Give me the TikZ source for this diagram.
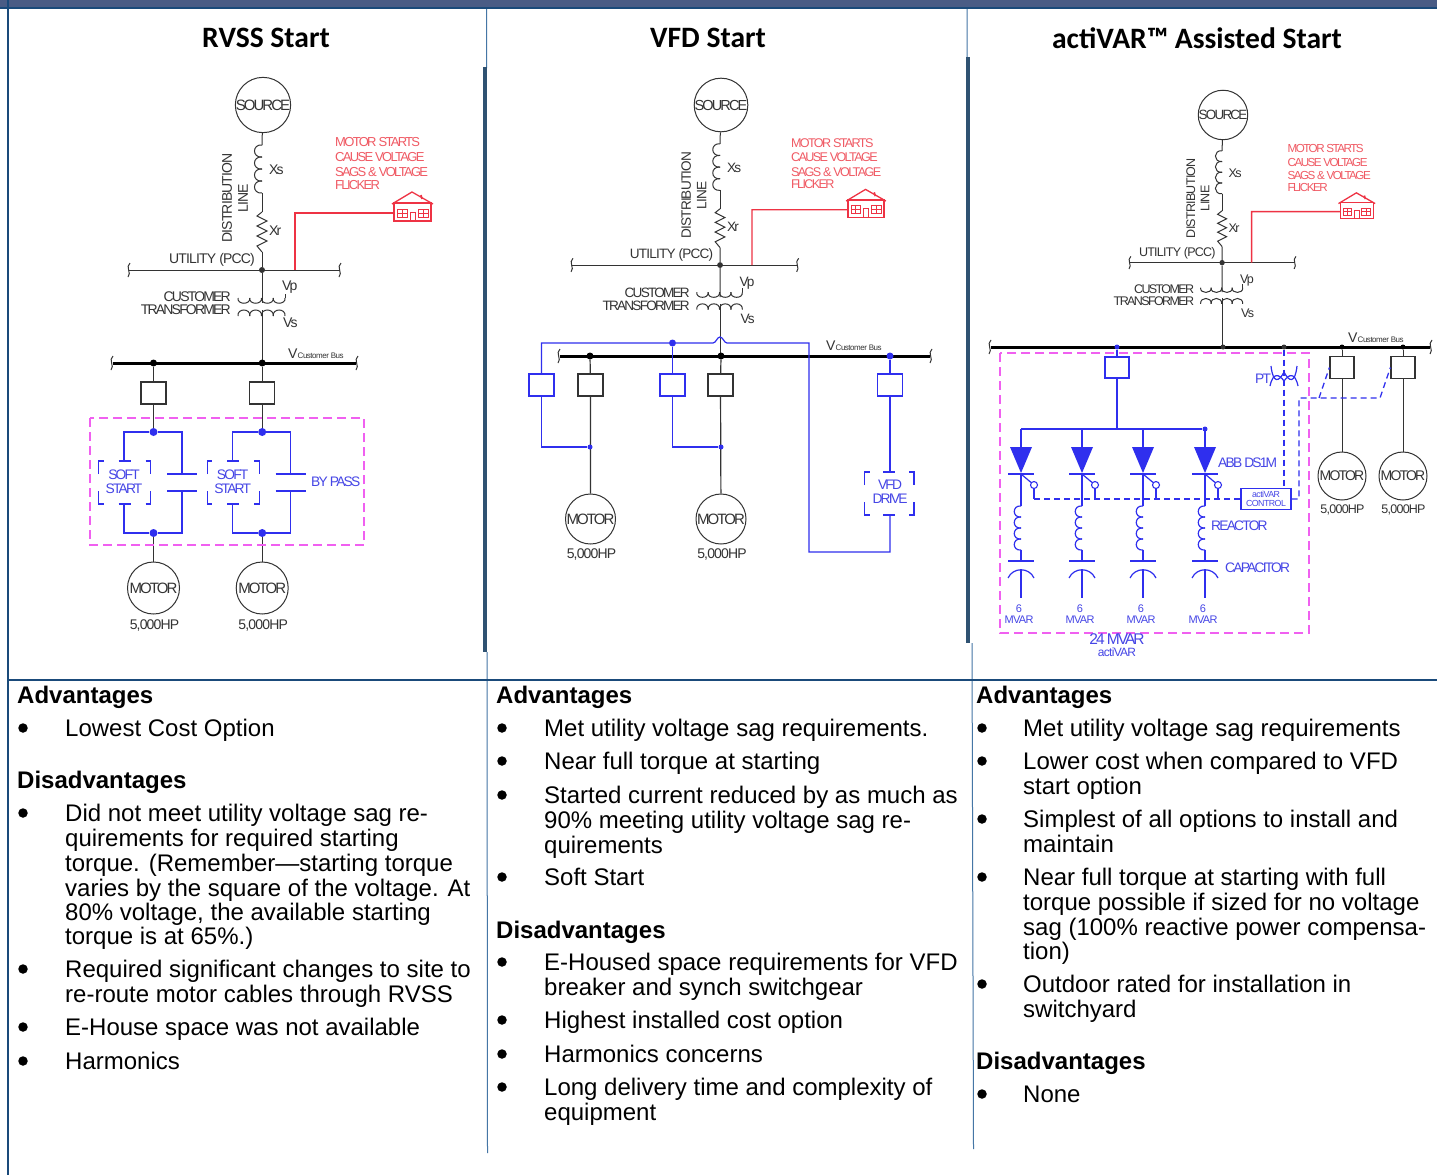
\documentclass[tikz,border=0pt]{standalone}
\usepackage{fontspec}
\setmainfont{Liberation Sans}
\newfontfamily\cad[LetterSpace=-13]{Liberation Sans}
\newfontfamily\cadw[LetterSpace=-6]{Liberation Sans}
\newfontfamily\ttl{Carlito}
\definecolor{navy}{HTML}{1A4A7A}
\definecolor{band}{HTML}{4A5C85}
\definecolor{thickc}{HTML}{2F5272}
\definecolor{thinc}{HTML}{4576A5}
\definecolor{ink}{HTML}{333333}
\definecolor{blu}{HTML}{2F2FEE}
\definecolor{blutx}{HTML}{4646E6}
\definecolor{redl}{HTML}{EE3344}
\definecolor{redt}{HTML}{F05A64}
\definecolor{mag}{HTML}{F060F0}
\newcount\tn
\tikzset{
  wire/.style={draw=ink,line width=1pt},
  bwire/.style={draw=blu,line width=1.2pt},
  bdash/.style={draw=blu,line width=1.3pt,dash pattern=on 6pt off 4pt},
  rwire/.style={draw=redl,line width=1.3pt},
  busbar/.style={draw=black,line width=3pt},
  thinbus/.style={draw=ink,line width=1pt},
  magbox/.style={draw=mag,line width=1.5pt,dash pattern=on 9pt off 5pt},
  circ/.style={draw=ink,line width=1pt,circle,inner sep=0pt,minimum size=#1,font=\cad\fontsize{15}{15}\selectfont,text=ink},
  cb/.style={draw=ink,line width=1.2pt,inner sep=0pt,minimum width=24pt,minimum height=22pt},
  bcb/.style={draw=blu,line width=1.2pt,inner sep=0pt,minimum width=25pt,minimum height=22pt},
  dot/.style={circle,fill=#1,inner sep=0pt,minimum size=7pt},
  sdot/.style={circle,fill=#1,inner sep=0pt,minimum size=5pt},
  lab/.style={inner sep=0pt,text=ink,font=\cad\fontsize{14}{14}\selectfont},
  wlab/.style={inner sep=0pt,text=ink,font=\cadw\fontsize{14}{14}\selectfont},
  blab/.style={inner sep=0pt,text=blutx,font=\cad\fontsize{13.8}{13.8}\selectfont},
  rlab/.style={inner sep=0pt,text=redt,font=\cad\fontsize{13}{13}\selectfont,anchor=west},
  body/.style={inner sep=0pt,text=black,font=\fontsize{24}{24}\selectfont},
  head/.style={inner sep=0pt,text=black,font=\bfseries\fontsize{24}{24}\selectfont},
  title/.style={inner sep=0pt,text=black,font=\ttl\bfseries\fontsize{29.6}{29.6}\selectfont},
  bul/.style={circle,fill=black,inner sep=0pt,minimum size=9.5pt},
}
\newcommand\T[3]{\global\advance\tn by 1 \node[body,anchor=base west] (t\the\tn) at (#1,#2+8.5) {#3};}
\newcommand\HH[3]{\global\advance\tn by 1 \node[head,anchor=base west] (t\the\tn) at (#1,#2+8) {#3};}
\newcommand\B[2]{\global\advance\tn by 1 \node[bul] (t\the\tn) at (#1,#2) {};}
\newcommand\vcoil[6]{\foreach \ii in {1,...,#3}{\draw[#6] (#1,{#2+(\ii-1)*#4}) .. controls ({#1+#5},{#2+(\ii-1)*#4-1}) and ({#1+#5},{#2+\ii*#4+1}) .. (#1,{#2+\ii*#4});}}
\newcommand\hcoil[6]{\foreach \ii in {1,...,#3}{\draw[#6] ({#1+(\ii-1)*#4},#2) .. controls ({#1+(\ii-1)*#4-1},{#2+#5}) and ({#1+\ii*#4+1},{#2+#5}) .. ({#1+\ii*#4},#2);}}
\newcommand\sq[3]{\draw[#3] ({#1+1},{#2-7}) .. controls ({#1-4},{#2-3}) and ({#1+3},{#2+3}) .. ({#1-1},{#2+7});}
% upper part: prefix, bus left, bus right, offset of transformer labels, offset of red labels
\newcommand\toppart[5]{
  \node[circ=52pt] (#1src) at (263,105) {SOURCE};
  \coordinate (#1a) at (262,145); \coordinate (#1b) at (262,193);
  \coordinate (#1c) at (262,212); \coordinate (#1d) at (262,252);
  \node[dot=ink,minimum size=6pt] (#1pcc) at (262,270) {};
  \coordinate (#1p) at (262,303); \coordinate (#1q) at (262,310);
  \coordinate (#1low) at (262,363);
  \draw[wire] (#1src) -- (#1a);
  \vcoil{262}{145}{4}{12}{-10}{wire}
  \draw[wire] (#1b) -- (#1c);
  \draw[wire] (#1c) -- (257,216) -- (267,221) -- (257,226) -- (267,231) -- (257,236) -- (267,241) -- (257,246) -- (#1d);
  \draw[wire] (#1d) -- (#1pcc) -- (#1p);
  \draw[thinbus] (#2,270) -- (#3,270);
  \sq{#2}{270}{wire}\sq{#3}{270}{wire}
  \hcoil{238}{298}{4}{11.75}{7}{wire}
  \hcoil{238}{316}{4}{11.75}{-8}{wire}
  \draw[wire] (#1q) -- (#1low);
  \draw[wire] (285,298) -- (285,294);
  \node[wlab,rotate=90] (#1dist) at (227,198) {DISTRIBUTION};
  \node[wlab,rotate=90] (#1line) at (243,198) {LINE};
  \node[lab,anchor=west] (#1xs) at (269,170) {Xs};
  \node[lab,anchor=west] (#1xr) at (269,231) {Xr};
  \node[wlab,anchor=east] (#1ut) at (255,260) {UTILITY (PCC)};
  \node[lab,anchor=east] (#1cu) at (231,{297+#4}) {CUSTOMER};
  \node[lab,anchor=east] (#1tr) at (231,{310+#4}) {TRANSFORMER};
  \node[lab,anchor=west] (#1vp) at (282,{287+#4}) {Vp};
  \node[lab,anchor=west] (#1vs) at (283,{323+#4}) {Vs};
  \node[rlab] (#1r1) at (335,{142+#5}) {MOTOR STARTS};
  \node[rlab] (#1r2) at (335,{157+#5}) {CAUSE VOLTAGE};
  \node[rlab] (#1r3) at (335,{172+#5}) {SAGS \& VOLTAGE};
  \node[rlab] (#1r4) at (335,{185+#5}) {FLICKER};
  \draw[rwire] (394,203) rectangle (431,221);
  \draw[rwire] (392,204) -- (412,192) -- (433,204);
  \draw[redl,line width=1.6pt] (421,195) -- (422,199);
  \draw[redl,line width=.8pt] (397,209) rectangle (407,217) (402,209) -- (402,217) (397,213) -- (407,213);
  \draw[redl,line width=.8pt] (418,209) rectangle (428,217) (423,209) -- (423,217) (418,213) -- (428,213);
  \draw[redl,line width=.8pt] (410,221) -- (410,212) -- (415,212) -- (415,221);
  \coordinate (#1h) at (394,213);
  \coordinate (#1j) at (295,270);
  \draw[rwire] (#1h) -- (295,213) -- (#1j);
}
\newcommand\brk[4]{
  \pgfmathsetmacro\cx{(#1+#3)/2}
  \draw[bwire] (#1,{#2+13}) -- (#1,#2) -- ({#1+5},#2) ({#3-5},#2) -- (#3,#2) -- (#3,{#2+13});
  \draw[bwire] (#1,{#4-13}) -- (#1,#4) -- ({#1+5},#4) ({#3-5},#4) -- (#3,#4) -- (#3,{#4-13});
  \draw[bwire] ({\cx-6},#2) -- ({\cx+6},#2) ({\cx-6},#4) -- ({\cx+6},#4);
}
\newcommand\softcell[2]{
  \begin{scope}[shift={(#2,0)}]
  \node[dot=black] (#1top) at (153.5,363) {};
  \node[cb,minimum width=25pt] (#1cb) at (153.5,393) {};
  \node[dot=blu,minimum size=8pt] (#1u) at (153.5,432) {};
  \node[dot=blu,minimum size=8pt] (#1d) at (153.5,533) {};
  \node[circ=52pt] (#1m) at (153.5,588) {MOTOR};
  \node[wlab] (#1hp) at (154.5,625) {5,000HP};
  \draw[wire,line width=1.2pt] (#1top) -- (#1cb) -- (#1u);
  \draw[wire,line width=1.2pt] (#1d) -- (#1m);
  \draw[bwire] (124,461) -- (124,432) -- (#1u) -- (182,432) -- (182,474);
  \draw[bwire] (124,504) -- (124,533) -- (#1d) -- (182,533) -- (182,491);
  \draw[bwire] (167,474) -- (197,474) (167,491) -- (197,491);
  \brk{98.5}{461}{150.5}{504}
  \node[blab] (#1s1) at (124,475) {SOFT};
  \node[blab] (#1s2) at (124,488.5) {START};
  \end{scope}
}
\newcommand\vcust[3]{%
  \node[lab,anchor=base west,font=\cadw\fontsize{14}{14}\selectfont] (#1v) at (#2,#3) {V};
  \node[lab,anchor=base west,font=\cadw\fontsize{8}{8}\selectfont] (#1w) at (#2+9.5,#3) {Customer Bus};
}
\newcommand\thy[2]{
  \coordinate (#1t) at (#2,429);
  \node[circle,draw=blu,line width=1.1pt,inner sep=0pt,minimum size=7pt] (#1g) at ({#2+13},485) {};
  \fill[blu] ({#2-11},447) -- ({#2+11},447) -- (#2,473) -- cycle;
  \draw[bwire] (#1t) -- (#2,447);
  \draw[bwire,line width=1.6pt] ({#2-13},474) -- ({#2+13},474);
  \draw[bwire] (#2,474) -- (#1g);
  \draw[bwire] (#1g) -- ({#2+13},499);
  \draw[bwire] (#2,474) -- (#2,506);
  \vcoil{#2}{506}{4}{11}{-9}{bwire}
  \draw[bwire] (#2,550) -- (#2,561);
  \draw[bwire,line width=1.4pt] ({#2-13},561) -- ({#2+13},561);
  \draw[bwire] ({#2-13},578) .. controls ({#2-8},567) and ({#2+8},567) .. ({#2+13},578);
  \draw[bwire] (#2,569) -- (#2,598);
  \node[blab,font=\cadw\fontsize{11}{11}\selectfont] (#1n) at ({#2-2},609) {6};
  \node[blab,font=\cadw\fontsize{11}{11}\selectfont] (#1o) at ({#2-2},619.5) {MVAR};
}
\begin{document}
\begin{tikzpicture}[x=1pt,y=-1pt]
\useasboundingbox (0,0) rectangle (1437,1175);
\fill[white] (0,0) rectangle (1437,1175);
\fill[band] (0,0) rectangle (1437,7);
\fill[navy] (0,7) rectangle (1437,9.3);
\draw[navy,line width=2pt] (7.5,0) -- (7.5,1175);
\draw[thinc,line width=1pt] (486.5,9) -- (486.5,68) (487,652) -- (487.5,1153);
\draw[thickc,line width=4.6pt] (485,67) -- (485,652);
\draw[thinc,line width=1pt] (967,9) -- (967,57) (972,643) -- (973.5,1149);
\draw[thickc,line width=4.6pt] (968,57) -- (968,643);
\draw[navy,line width=2.2pt] (7,680) -- (1437,680);
\node[title] (ti1) at (266,38) {RVSS Start};
\node[title] (ti2) at (708,38) {VFD Start};
\node[title] (ti3) at (1197,38) {actiVAR™ Assisted Start};
% PANEL 1
\begin{scope}\toppart{a}{129}{340}{0}{0}\end{scope}
\draw[busbar] (113,363) -- (356,363);
\sq{112}{363}{wire}\sq{357}{363}{wire}
\vcust{av}{288}{358}
\softcell{p}{0}
\softcell{q}{108.7}
\draw[magbox] (90,418) rectangle (364,545);
\node[blab,anchor=west] (bypass) at (311,482) {BY PASS};
% PANEL 2
\begin{scope}[shift={(465.9,3.15)},scale=.97,transform shape]\toppart{b}{109.4}{342}{2}{2}\end{scope}
\draw[busbar] (560,356) -- (930,356);
\sq{559}{356}{wire}\sq{931}{356}{wire}
\vcust{bv}{826}{350}
\node[dot=black] (c1) at (590,356) {};
\node[dot=black] (c2) at (721,356) {};
\node[dot=blu] (c3) at (890,356) {};
\node[cb,minimum width=25pt] (k1) at (590.5,385) {};
\node[cb,minimum width=25pt] (k2) at (720.5,385) {};
\node[bcb] (k3) at (541.5,385) {};
\node[bcb] (k4) at (672.5,385) {};
\node[bcb] (k5) at (890,385) {};
\node[circ=50pt] (m1) at (590.5,519) {MOTOR};
\node[circ=50pt] (m2) at (721,519) {MOTOR};
\node[wlab] (h1) at (591.5,555) {5,000HP};
\node[wlab] (h2) at (722,555) {5,000HP};
\draw[wire,line width=1.2pt] (c1) -- (k1) -- (m1);
\draw[wire,line width=1.2pt] (c2) -- (k2) -- (m2);
\node[sdot=blu] (n1) at (590,447) {};
\node[sdot=blu] (n2) at (721,447) {};
\node[sdot=blu,minimum size=7pt] (n3) at (672.5,343) {};
\draw[bwire] (k3) -- (541.5,447) -- (n1);
\draw[bwire] (k4) -- (672.5,447) -- (n2);
\draw[bwire] (k3) -- (541.5,343) -- (n3) -- (713,343) .. controls (716,343) and (717,337) .. (720,337) .. controls (723,337) and (724,343) .. (727,343) -- (809,343) -- (809,552) -- (890,552) -- (890,515);
\draw[bwire] (n3) -- (k4);
\draw[bwire] (c3) -- (k5) -- (890,472);
\brk{864.5}{472}{914}{515}
\node[blab] (vfd1) at (890,485) {VFD};
\node[blab] (vfd2) at (890,499) {DRIVE};
% PANEL 3
\begin{scope}[shift={(987.6,21)},scale=.895,transform shape]\toppart{c}{159}{343.5}{3}{1}\end{scope}
\draw[busbar] (991,347) -- (1430,347);
\sq{990}{347}{wire}\sq{1431}{347}{wire}
\vcust{cv}{1348}{342}
\draw[magbox] (1000,353) rectangle (1309,633);
\node[sdot=blu] (d1) at (1117,347) {};
\node[sdot=ink] (d2) at (1223,347) {};
\node[sdot=ink] (d3) at (1284,347) {};
\node[sdot=black] (d4) at (1342,347) {};
\node[sdot=black] (d5) at (1403,347) {};
\node[bcb,minimum width=24pt,minimum height=21pt] (e1) at (1117,367.5) {};
\node[cb] (e2) at (1342,367.5) {};
\node[cb] (e3) at (1403,367.5) {};
\node[circ=48pt,font=\cad\fontsize{14}{14}\selectfont] (m3) at (1342,476) {MOTOR};
\node[circ=48pt,font=\cad\fontsize{14}{14}\selectfont] (m4) at (1403,476) {MOTOR};
\node[wlab,font=\cadw\fontsize{12.5}{12.5}\selectfont] (h3) at (1342.5,510) {5,000HP};
\node[wlab,font=\cadw\fontsize{12.5}{12.5}\selectfont] (h4) at (1403.5,510) {5,000HP};
\draw[wire] (d4) -- (e2) -- (m3);
\draw[wire] (d5) -- (e3) -- (m4);
\node[sdot=blu] (f0) at (1205,429) {};
\draw[bwire] (d1) -- (e1) -- (1117,429);
\draw[bwire] (1021,429) -- (f0);
\thy{s1}{1021}\thy{s2}{1082}\thy{s3}{1143}\thy{s4}{1205}
\node[draw=blu,line width=1.2pt,inner sep=0pt,minimum width=50pt,minimum height=21pt] (ctl) at (1266,499) {};
\node[blab,font=\cadw\fontsize{8.8}{8.8}\selectfont] (ctl1) at (1266,494) {actiVAR};
\node[blab,font=\cadw\fontsize{8.8}{8.8}\selectfont] (ctl2) at (1266,503.5) {CONTROL};
\draw[bdash] (1034,499) -- (ctl.west);
\draw[bdash] (d3) -- (d3 |- ctl.north);
\draw[bdash] (ctl.east) -- (1299,499) -- (1299,398) -- (1380,398) -- (e3.west);
\draw[bdash] (1319,398) -- (e2.west);
\draw[bwire] (1271,366) .. controls (1273,384) and (1279,382) .. (1284,372) .. controls (1289,382) and (1295,384) .. (1297,366);
\draw[bwire] (1270,386) .. controls (1273,372) and (1279,374) .. (1284,381) .. controls (1289,374) and (1295,372) .. (1298,386);
\node[blab] (pt) at (1263,379) {PT};
\node[blab,anchor=west] (abb) at (1218,463) {ABB DS1M};
\node[blab,anchor=west] (rea) at (1211,526) {REACTOR};
\node[blab,anchor=west] (cap) at (1225,568) {CAPACITOR};
\node[blab,font=\cad\fontsize{15.5}{15.5}\selectfont] (tot) at (1117,639) {24 MVAR};
\node[blab,font=\cadw\fontsize{12}{12}\selectfont] (act) at (1117,652.5) {actiVAR};
% TEXT column 1
\HH{17}{695}{Advantages}
\B{23}{728}\T{65}{728}{Lowest Cost Option}
\HH{17}{780}{Disadvantages}
\B{23}{813}\T{65}{813}{Did not meet utility voltage sag re-}
\T{65}{838}{quirements for required starting}
\T{65}{863}{torque. (Remember—starting torque}
\T{65}{888}{varies by the square of the voltage. At}
\T{65}{912}{80\% voltage, the available starting}
\T{65}{936}{torque is at 65\%.)}
\B{23}{969}\T{65}{969}{Required significant changes to site to}
\T{65}{994}{re-route motor cables through RVSS}
\B{23}{1027}\T{65}{1027}{E-House space was not available}
\B{23}{1061}\T{65}{1061}{Harmonics}
% TEXT column 2
\HH{496}{695}{Advantages}
\B{502}{728}\T{544}{728}{Met utility voltage sag requirements.}
\B{502}{761}\T{544}{761}{Near full torque at starting}
\B{502}{795}\T{544}{795}{Started current reduced by as much as}
\T{544}{820}{90\% meeting utility voltage sag re-}
\T{544}{845}{quirements}
\B{502}{877}\T{544}{877}{Soft Start}
\HH{496}{930}{Disadvantages}
\B{502}{962}\T{544}{962}{E-Housed space requirements for VFD}
\T{544}{987}{breaker and synch switchgear}
\B{502}{1020}\T{544}{1020}{Highest installed cost option}
\B{502}{1054}\T{544}{1054}{Harmonics concerns}
\B{502}{1087}\T{544}{1087}{Long delivery time and complexity of}
\T{544}{1112}{equipment}
% TEXT column 3
\HH{976}{695}{Advantages}
\B{982}{728}\T{1023}{728}{Met utility voltage sag requirements}
\B{982}{761}\T{1023}{761}{Lower cost when compared to VFD}
\T{1023}{786}{start option}
\B{982}{819}\T{1023}{819}{Simplest of all options to install and}
\T{1023}{844}{maintain}
\B{982}{877}\T{1023}{877}{Near full torque at starting with full}
\T{1023}{902}{torque possible if sized for no voltage}
\T{1023}{927}{sag (100\% reactive power compensa-}
\T{1023}{951}{tion)}
\B{982}{984}\T{1023}{984}{Outdoor rated for installation in}
\T{1023}{1009}{switchyard}
\HH{976}{1061}{Disadvantages}
\B{982}{1094}\T{1023}{1094}{None}
\end{tikzpicture}
\end{document}
